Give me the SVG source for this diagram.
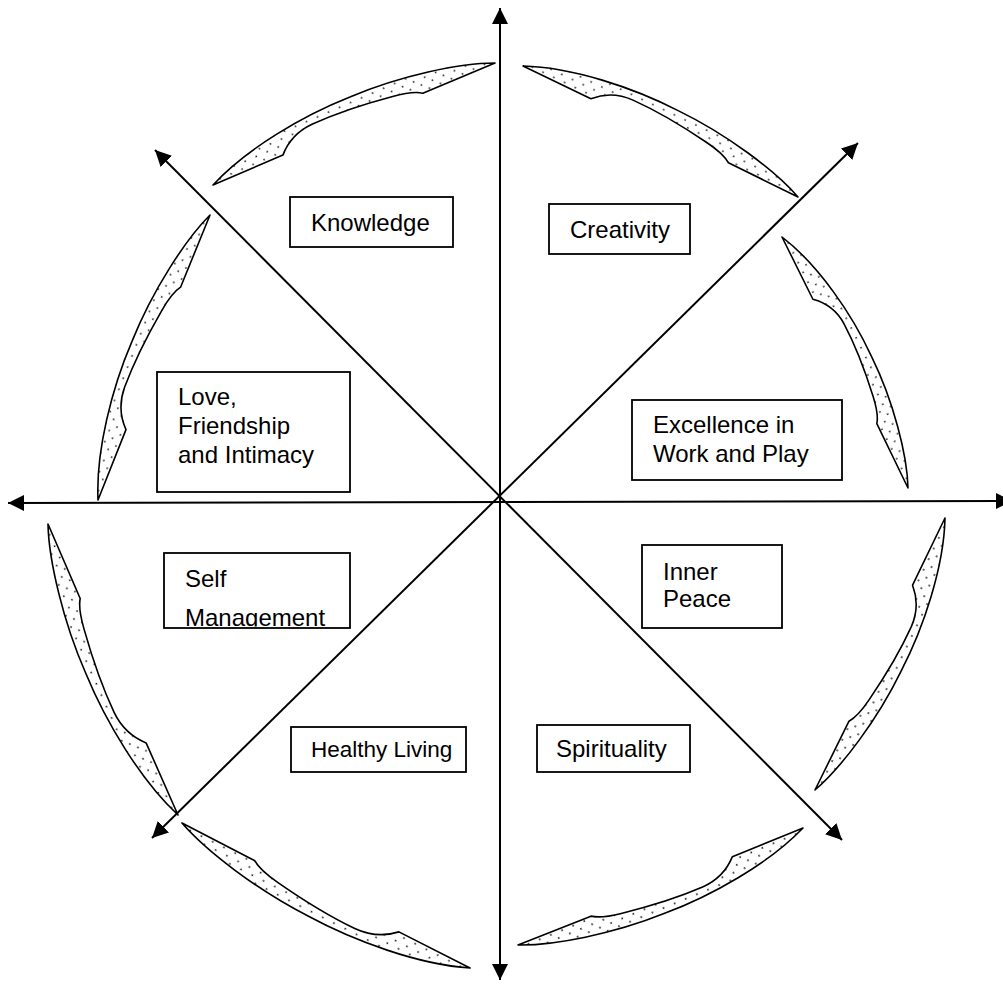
<svg xmlns="http://www.w3.org/2000/svg" width="1003" height="985" viewBox="0 0 1003 985">
<style>
.ax{stroke:#000;stroke-width:2;fill:none}
.cr{fill:url(#dots);stroke:#000;stroke-width:1.6;stroke-linejoin:round}
.bx{fill:#fff;stroke:#000;stroke-width:1.8}
.tx{font-family:"Liberation Sans",Arial,sans-serif;font-size:24px;fill:#000}
</style>
<defs>
<pattern id="dots" width="12" height="12" patternUnits="userSpaceOnUse">
<rect width="12" height="12" fill="#fff"/>
<circle cx="3" cy="3" r="0.9" fill="#222"/>
<circle cx="9" cy="9" r="0.9" fill="#222"/>
</pattern>
<marker id="ah" markerUnits="userSpaceOnUse" markerWidth="16" markerHeight="16" refX="16" refY="8" orient="auto-start-reverse">
<path d="M0,0 L16,8 L0,16 Z" fill="#000"/>
</marker>
<path id="cres" d="M0,0 C45,-20 110,-28 160.6,-26.4 C215,-26 275,-14 307.2,0 L229,-1 C222,-6 214,-8 200,-10 C170,-14.5 140,-17 115,-16.5 C98,-16 86,-10 76,0.3 Z"/>
<clipPath id="clipSelf"><rect x="164" y="553" width="186" height="73.5"/></clipPath>
</defs>
<rect width="1003" height="985" fill="#fff"/>
<g id="rings">
<use href="#cres" class="cr" transform="matrix(0.918,-0.397,0.397,0.918,213,185)"/>
<use href="#cres" class="cr" transform="matrix(0.8952,0.4264,-0.4301,0.9028,523,66)"/>
<use href="#cres" class="cr" transform="matrix(0.4102,0.8171,-0.8936,0.4486,782,237)"/>
<use href="#cres" class="cr" transform="matrix(-0.4232,0.8854,-0.9022,-0.4312,945,518)"/>
<use href="#cres" class="cr" transform="matrix(-0.9277,0.3809,-0.3797,-0.925,803,828)"/>
<use href="#cres" class="cr" transform="matrix(-0.9375,-0.472,0.4497,-0.8933,470,968)"/>
<use href="#cres" class="cr" transform="matrix(-0.4232,-0.9472,0.9236,-0.3836,178,815)"/>
<use href="#cres" class="cr" transform="matrix(0.3646,-0.9277,0.9308,0.3658,98,500)"/>
</g>
<g id="connectors">
<line class="ax" x1="500" y1="8" x2="500" y2="980" marker-start="url(#ah)" marker-end="url(#ah)"/>
<line class="ax" x1="8" y1="503" x2="1012" y2="501" marker-start="url(#ah)" marker-end="url(#ah)"/>
<line class="ax" x1="155" y1="150" x2="842" y2="840" marker-start="url(#ah)" marker-end="url(#ah)"/>
<line class="ax" x1="858" y1="143" x2="152" y2="838" marker-start="url(#ah)" marker-end="url(#ah)"/>
</g>
<g id="knowledge"><rect class="bx" x="290" y="197" width="163" height="50"/><text class="tx" x="311" y="231">Knowledge</text></g>
<g id="creativity"><rect class="bx" x="549" y="204" width="141" height="50"/><text class="tx" x="570" y="238">Creativity</text></g>
<g id="love"><rect class="bx" x="157" y="372" width="193" height="120"/><text class="tx"><tspan x="178" y="405">Love,</tspan><tspan x="178" y="434">Friendship</tspan><tspan x="178" y="463">and Intimacy</tspan></text></g>
<g id="excellence"><rect class="bx" x="632" y="400" width="210" height="80"/><text class="tx"><tspan x="653" y="433">Excellence in</tspan><tspan x="653" y="462">Work and Play</tspan></text></g>
<g id="self"><rect class="bx" x="164" y="553" width="186" height="75"/><text class="tx" clip-path="url(#clipSelf)"><tspan x="185" y="587">Self</tspan><tspan x="185" y="626">Management</tspan></text></g>
<g id="innerpeace"><rect class="bx" x="642" y="545" width="140" height="83"/><text class="tx"><tspan x="663" y="580">Inner</tspan><tspan x="663" y="607">Peace</tspan></text></g>
<g id="healthy"><rect class="bx" x="291" y="727" width="175" height="45"/><text class="tx" x="311" y="757" style="font-size:22.5px">Healthy Living</text></g>
<g id="spirituality"><rect class="bx" x="537" y="725" width="153" height="47"/><text class="tx" x="556" y="757">Spirituality</text></g>
</svg>
